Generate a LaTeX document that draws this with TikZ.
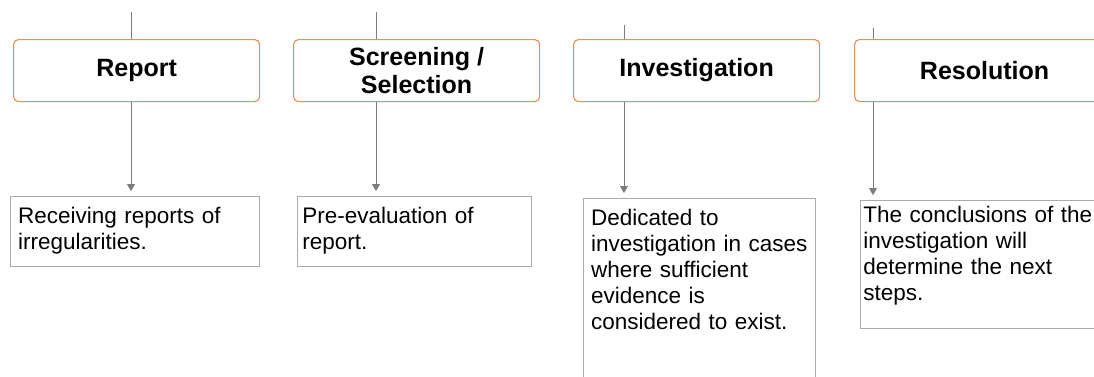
\documentclass[tikz,border=0pt]{standalone}
\usepackage{fontspec}
\setmainfont{Liberation Sans}
\usetikzlibrary{arrows.meta}
\definecolor{stageorange}{RGB}{231,140,82}
\definecolor{boxgray}{RGB}{170,170,170}
\definecolor{linegray}{RGB}{125,125,125}

\begin{document}
\begin{tikzpicture}[x=0.025cm,y=-0.025cm,
    stage/.style={draw=stageorange,line width=0.8pt,rounded corners=3.5pt,anchor=north west,minimum width=6.15cm,minimum height=1.55cm,align=center,inner sep=0pt,font=\fontsize{17.8}{20}\selectfont\bfseries},
    desc/.style={draw=boxgray,line width=0.7pt,anchor=north west,align=left,inner xsep=0.19cm,inner ysep=0.26cm,text height=0.41cm,font=\fontsize{16}{18.5}\selectfont},
    feed/.style={draw=linegray,line width=0.7pt},
    down/.style={feed,-{Triangle[width=5.5pt,length=5pt]},shorten >=0.12cm}]
    \useasboundingbox (0,0) rectangle (1094,376);
    \clip (0,0) rectangle (1094,376);
    \node[stage] (report) at (13,39) {Report};
    \node[stage] (screening) at (293,39) {Screening /\\Selection};
    \node[stage] (investigation) at (573,39) {Investigation};
    \node[stage,minimum width=6.5cm] (resolution) at (854,39) {Resolution};
    \node[desc,text width=5.85cm,text depth=0.82cm] (reportdesc) at (10,196) {Receiving reports of\\irregularities.};
    \node[desc,inner xsep=0.12cm,text width=5.61cm,text depth=0.82cm] (screeningdesc) at (297,196) {Pre-evaluation of\\report.};
    \node[desc,text width=5.42cm,text depth=8cm] (investigationdesc) at (583,198) {Dedicated to\\investigation in cases\\where sufficient\\evidence is\\considered to exist.};
    \node[desc,inner xsep=0.07cm,inner ysep=0.14cm,text width=6.4cm,text depth=2.51cm] (resolutiondesc) at (860,200) {The conclusions of the\\investigation will\\determine the next\\steps.};
    \coordinate (reportfeed) at (131,12);
    \coordinate (screeningfeed) at (376,12);
    \coordinate (investigationfeed) at (624,25);
    \coordinate (resolutionfeed) at (873,28);
    \foreach \s in {report,screening,investigation,resolution} {
        \draw[feed] (\s feed) -- (\s feed |- \s.north);
        \draw[down] (\s feed |- \s.south) -- (\s feed |- \s desc.north);
    }
\end{tikzpicture}
\end{document}
